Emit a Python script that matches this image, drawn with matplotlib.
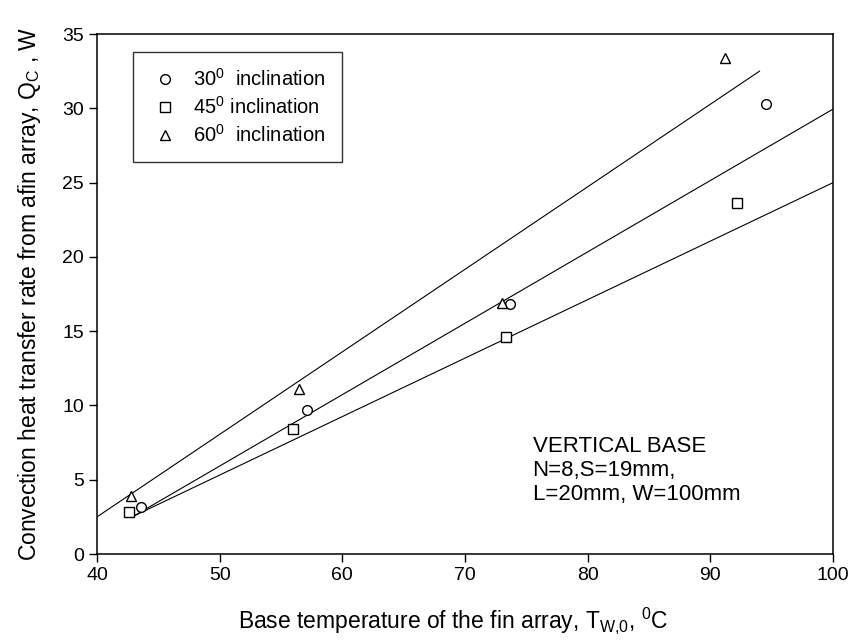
import numpy as np
import matplotlib.pyplot as plt

plt.rcParams['font.family'] = ['Liberation Sans', 'DejaVu Sans']
plt.rcParams['mathtext.fontset'] = 'custom'
plt.rcParams['mathtext.rm'] = 'Liberation Sans'
plt.rcParams['mathtext.it'] = 'Liberation Sans'

# measured points, base temperature (C) vs heat rate (W)
t30 = [43.6, 57.1, 73.7, 94.5]
q30 = [3.2, 9.7, 16.8, 30.3]
t45 = [42.6, 56.0, 73.3, 92.2]
q45 = [2.85, 8.4, 14.6, 23.6]
t60 = [42.8, 56.5, 73.0, 91.2]
q60 = [3.9, 11.1, 16.9, 33.4]

# fitted lines (end points)
fit30_t = [43.0, 100.0]
fit30_q = [2.56, 29.95]
fit45_t = [43.0, 100.0]
fit45_q = [2.56, 25.0]
fit60_t = [40.0, 94.0]
fit60_q = [2.5, 32.5]

fig = plt.figure(figsize=(8.53, 6.42), dpi=100)
ax = fig.add_axes([0.1137, 0.137, 0.863, 0.81])

ms = 7
ax.plot(t30, q30, 'o', mfc='white', mec='black', mew=1.0, ms=ms, ls='none',
        label='30$^0$  inclination', zorder=3)
ax.plot(t45, q45, 's', mfc='white', mec='black', mew=1.0, ms=ms - 0.5, ls='none',
        label='45$^0$ inclination', zorder=3)
ax.plot(t60, q60, '^', mfc='white', mec='black', mew=1.0, ms=ms, ls='none',
        label='60$^0$  inclination', zorder=3)

ax.plot(fit30_t, fit30_q, color='black', lw=0.8)
ax.plot(fit45_t, fit45_q, color='black', lw=0.8)
ax.plot(fit60_t, fit60_q, color='black', lw=0.8)

ax.set_xlim(40, 100)
ax.set_ylim(0, 35)
ax.set_xticks(np.arange(40, 101, 10))
ax.set_yticks(np.arange(0, 36, 5))
ax.tick_params(axis='both', direction='out', length=6, width=1, labelsize=14,
               top=False, right=False)
for s in ax.spines.values():
    s.set_linewidth(1.1)

ax.set_xlabel('Base temperature of the fin array, T$_{W{,}0}$, $^0$C', fontsize=16.5)
ax.xaxis.set_label_coords(0.484, -0.098)
ax.set_ylabel('Convection heat transfer rate from afin array, Q$_C$ , W', fontsize=16.5, labelpad=14)

leg = ax.legend(loc='upper left', bbox_to_anchor=(0.049, 0.965), frameon=True, fancybox=False,
                edgecolor='black', fontsize=14.5, handletextpad=0.6, labelspacing=0.3,
                borderpad=0.8, handlelength=1.6, borderaxespad=0)
leg.get_frame().set_linewidth(1.0)

ax.text(75.5, 7.95, 'VERTICAL BASE\nN=8,S=19mm,\nL=20mm, W=100mm', fontsize=16,
        va='top', ha='left', linespacing=1.2)

fig.savefig('out.png', dpi=100)
